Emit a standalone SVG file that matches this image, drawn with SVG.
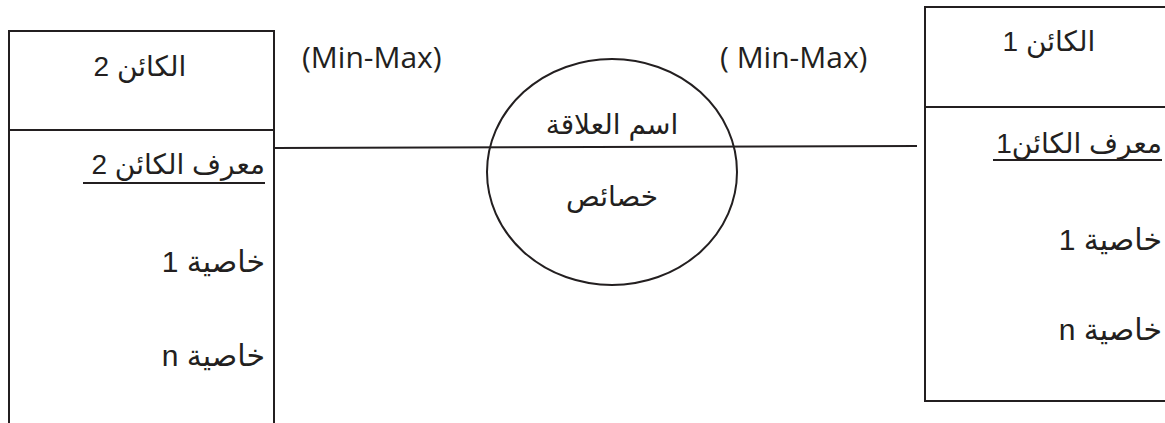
<svg xmlns="http://www.w3.org/2000/svg" width="1165" height="423" viewBox="0 0 1165 423">
  <style>
    .frame { fill: none; stroke: #231f20; stroke-width: 2; }
    .link { fill: none; stroke: #231f20; stroke-width: 2; }
    .ar { font-family: "Liberation Sans", "DejaVu Sans", sans-serif; font-size: 28px; fill: #231f20; direction: rtl; unicode-bidi: embed; }
    .attr { font-size: 30px; }
    .card { font-family: "Open Sans", "Liberation Sans", sans-serif; font-size: 30px; fill: #231f20; }
    .key { fill: none; stroke: #231f20; stroke-width: 2; }
  </style>
  <rect width="1165" height="423" fill="#ffffff"/>

  <!-- relationship line between the two entities -->
  <g id="connectors">
    <line class="link" x1="274" y1="148" x2="917" y2="146"/>
  </g>

  <!-- entity 2 (left) -->
  <g id="entity2">
    <path class="frame" d="M9 424 V31 H274 V424"/>
    <line class="frame" x1="9" y1="130" x2="274" y2="130"/>
    <text class="ar" x="140" y="76" text-anchor="middle">الكائن 2</text>
    <text class="ar" x="265" y="174" text-anchor="start">معرف الكائن 2</text>
    <line class="key" x1="83" y1="183" x2="265" y2="183"/>
    <text class="ar attr" x="265" y="272" text-anchor="start">خاصية 1</text>
    <text class="ar attr" x="265" y="366" text-anchor="start">خاصية n</text>
  </g>

  <!-- cardinalities -->
  <g id="card2">
    <text class="card" x="302" y="68">(Min-Max)</text>
  </g>
  <g id="card1">
    <text class="card" x="720" y="68" xml:space="preserve">( Min-Max)</text>
  </g>

  <!-- relationship -->
  <g id="relation">
    <ellipse class="frame" cx="612" cy="172" rx="125" ry="113"/>
    <text class="ar" x="612" y="134" text-anchor="middle">اسم العلاقة</text>
    <text class="ar" x="612" y="206" text-anchor="middle">خصائص</text>
  </g>

  <!-- entity 1 (right) -->
  <g id="entity1">
    <path class="frame" d="M1166 7 H925 V401 H1166"/>
    <line class="frame" x1="925" y1="107" x2="1166" y2="107"/>
    <text class="ar" x="1049" y="51" text-anchor="middle">الكائن 1</text>
    <text class="ar" x="1162" y="153" text-anchor="start">معرف الكائن1</text>
    <line class="key" x1="993" y1="160" x2="1162" y2="160"/>
    <text class="ar attr" x="1162" y="250" text-anchor="start">خاصية 1</text>
    <text class="ar attr" x="1162" y="340" text-anchor="start">خاصية n</text>
  </g>
</svg>
